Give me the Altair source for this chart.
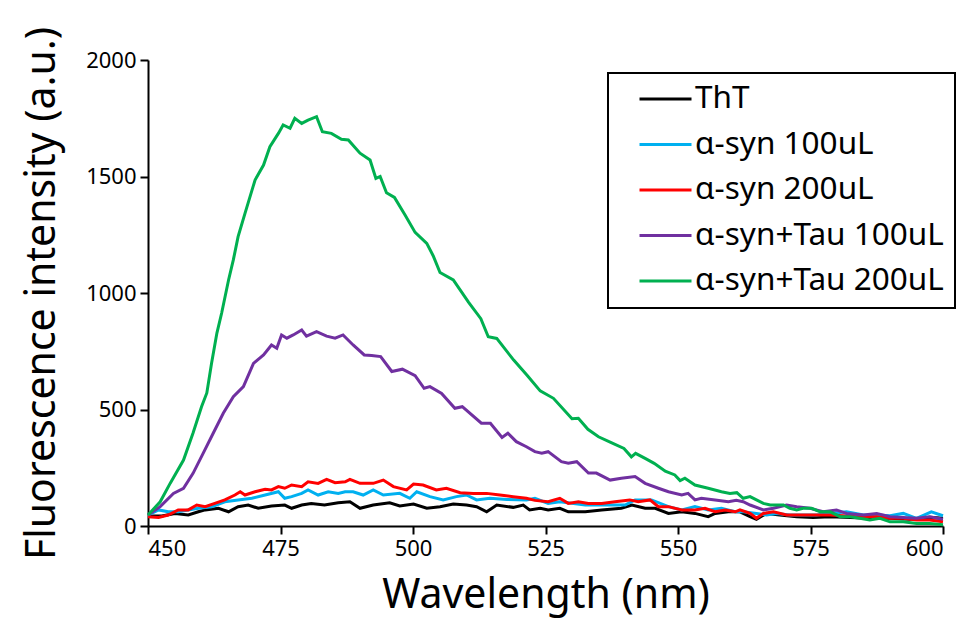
import altair as alt
import pandas as pd

series_names = ["ThT", "α-syn 100uL", "α-syn 200uL", "α-syn+Tau 100uL", "α-syn+Tau 200uL"]
series_colors = ["#000000", "#00B0F0", "#FF0000", "#7030A0", "#00B050"]

tht_wl = [450, 452.6, 455.1, 457.6, 459.5, 460.8, 463.3, 465.2, 467, 468.9, 470.8, 473.3, 475.8, 477.1, 479,
          480.8, 483.3, 485.9, 488.1, 490, 492.5, 495.6, 497.5, 500.1, 502.6, 505.1, 507.6, 510.1, 512, 513.9,
          515.8, 518.9, 520.8, 522, 524, 525.5, 527.7, 529.3, 532.5, 535.6, 539.3, 541.3, 543.8, 545.7, 548.2,
          550.7, 553.2, 555.7, 557, 559.5, 561.7, 563.6, 564.8, 566.7, 569.2, 572.4, 575.5, 578.7, 582.5, 586.2,
          590, 593.7, 597.5, 600]
tht_val = [43, 43, 54, 47, 61, 69, 76, 61, 83, 90, 76, 86, 90, 76, 90,
           97, 90, 100, 104, 76, 90, 100, 86, 94, 76, 83, 94, 90, 83, 61,
           90, 80, 90, 69, 76, 69, 76, 61, 61, 69, 76, 90, 76, 76, 54,
           61, 54, 40, 54, 61, 61, 40, 29, 54, 47, 40, 37, 40, 37, 33,
           33, 29, 37, 33]

syn100_wl = [450, 452, 453.8, 455.7, 457.6, 459.5, 462, 464.5, 467, 469.6, 472.1, 474.6, 475.8, 477.1, 479,
             480.2, 482.1, 484, 485.9, 487.2, 488.7, 490.6, 492.5, 494.4, 497.5, 499.4, 500.7, 503.2, 505.7, 508.2,
             510.1, 512, 514.5, 517.7, 521.4, 523, 525.5, 527.7, 532.5, 535.6, 540, 541.9, 545, 548.2, 550.7,
             553.2, 555.7, 558.2, 560.8, 562.3, 564.8, 566.7, 568.6, 571.1, 573.6, 576.1, 578.7, 581.8, 585, 587.5,
             590, 592.5, 595, 597.8, 600]
syn100_val = [47, 69, 61, 61, 69, 76, 83, 104, 112, 119, 133, 147, 119, 126, 140,
              155, 133, 147, 140, 147, 147, 133, 155, 133, 140, 119, 147, 126, 112, 126,
              133, 112, 119, 114, 112, 119, 97, 104, 90, 90, 90, 112, 112, 83, 69,
              83, 69, 76, 61, 61, 54, 47, 54, 47, 47, 47, 54, 61, 47, 47,
              44, 54, 33, 61, 44]

syn200_wl = [450, 452, 453.8, 455.7, 457.6, 459.2, 460.8, 462.6, 464.5, 466.4, 467.4, 468.3, 470.2, 472.1, 473.3,
             474.6, 475.8, 477.1, 479, 480.2, 482.1, 483.7, 485.3, 487.2, 488.1, 490, 492.5, 494.4, 496.3, 498.8,
             500.1, 501.9, 504.4, 506.3, 508.9, 511.4, 513.9, 516.4, 518.9, 521.4, 523, 525.5, 527.7, 529.3, 531.2,
             533.1, 535.6, 538.1, 540.9, 542.5, 544.7, 546.3, 548.2, 550.7, 553.2, 555.1, 557, 558.9, 560.8, 561.7,
             563.6, 564.8, 566.1, 568, 570.5, 573.6, 576.1, 578.7, 581.2, 583.7, 587.5, 590, 592.5, 595, 597.5, 600]
syn200_val = [40, 37, 47, 69, 69, 90, 83, 97, 112, 133, 147, 133, 147, 158, 155,
              169, 162, 176, 169, 190, 183, 200, 186, 190, 200, 183, 183, 197, 169, 155,
              180, 176, 155, 162, 143, 140, 140, 133, 126, 119, 110, 104, 119, 97, 104,
              97, 97, 104, 112, 104, 112, 83, 83, 69, 69, 76, 61, 69, 61, 69,
              54, 33, 54, 61, 47, 47, 47, 47, 44, 40, 40, 33, 33, 26, 26, 18]

tau100_wl = [450, 452.3, 454.8, 456.7, 458.5, 460.4, 462.3, 464.2, 466.1, 468, 469.9, 471.8, 473.3, 474.3, 475.2,
             476.2, 477.4, 479, 479.9, 481.8, 483.7, 485.3, 486.8, 488.7, 490.8, 492.2, 493.9, 496, 498, 500.4,
             502.1, 503.2, 505.4, 507.9, 509.3, 512.9, 514.6, 516.8, 517.9, 519.5, 521.4, 523, 524.3, 525.5, 528,
             529.3, 530.9, 533.1, 534.6, 537.2, 539.3, 541.9, 543.8, 546.3, 548.2, 550.7, 551.9, 553.2, 554.4, 557,
             559.5, 561, 562.3, 563.6, 566.1, 568, 570.5, 572.4, 574.9, 577.4, 579.9, 581.8, 585, 587.5, 590,
             592.5, 595, 597.5, 600]
tau100_val = [47, 83, 140, 162, 226, 312, 398, 484, 555, 598, 698, 734, 777, 763, 820,
              806, 820, 841, 815, 834, 815, 806, 820, 777, 734, 732, 727, 663, 673, 645,
              591, 598, 569, 505, 512, 441, 441, 380, 398, 362, 340, 319, 312, 319, 276,
              269, 276, 227, 227, 197, 205, 212, 183, 162, 147, 133, 140, 112, 119, 112,
              104, 110, 104, 90, 69, 76, 90, 83, 76, 61, 69, 54, 47, 54, 40,
              37, 33, 40, 29]

tau200_wl = [450, 452.3, 454.2, 456.7, 458.5, 460.1, 461.1, 462, 463, 463.9, 465.2, 466.1, 467, 468.3, 470.2,
             471.8, 473, 474.6, 475.5, 476.8, 477.7, 479, 480.2, 481.8, 482.9, 484.6, 486.5, 487.8, 490, 491.9,
             493, 493.8, 495, 496.5, 498.5, 500.4, 502.6, 503.8, 505.1, 507.6, 510.5, 512.8, 514.2, 515.8, 519,
             521.6, 524, 526.5, 530, 531.2, 533, 535, 537.4, 539.8, 541.2, 542, 543.8, 545.5, 547.6, 549.4,
             550.4, 551.3, 553.2, 555.7, 558.2, 559.8, 561.1, 562.3, 563.6, 564.8, 566.1, 567.4, 569.9, 571.1, 572.4,
             573.6, 575.2, 576.8, 578.7, 580.6, 582.5, 584.3, 586.2, 588.1, 590, 592.5, 595, 597.5, 600]
tau200_val = [47, 104, 184, 283, 399, 512, 571, 700, 828, 914, 1056, 1142, 1242, 1342, 1485,
              1549, 1628, 1685, 1721, 1707, 1750, 1728, 1742, 1757, 1692, 1685, 1660, 1657, 1600, 1571,
              1492, 1500, 1430, 1410, 1335, 1260, 1213, 1160, 1088, 1056, 960, 890, 812, 805, 712,
              645, 580, 548, 460, 462, 415, 383, 358, 333, 297, 312, 290, 269, 235, 219,
              195, 205, 176, 162, 147, 140, 143, 119, 126, 112, 97, 90, 90, 76, 69,
              76, 76, 61, 61, 40, 40, 33, 26, 33, 18, 18, 11, 11, 5]

all_wl = [tht_wl, syn100_wl, syn200_wl, tau100_wl, tau200_wl]
all_val = [tht_val, syn100_val, syn200_val, tau100_val, tau200_val]

rows = []
for name, wls, vals in zip(series_names, all_wl, all_val):
    for w, v in zip(wls, vals):
        rows.append({"wl": w, "val": v, "series": name})
df = pd.DataFrame(rows)

FONT = "Noto Sans"

chart = alt.Chart(df).mark_line(strokeWidth=3).encode(
    x=alt.X("wl:Q",
            scale=alt.Scale(domain=[450, 600], nice=False, zero=False),
            axis=alt.Axis(values=[450, 475, 500, 525, 550, 575, 600], format="d",
                          title="Wavelength (nm)", titlePadding=16, labelPadding=4)),
    y=alt.Y("val:Q",
            scale=alt.Scale(domain=[0, 2000], nice=False),
            axis=alt.Axis(values=[0, 500, 1000, 1500, 2000], format="d",
                          title="Fluorescence intensity (a.u.)", titlePadding=22, labelPadding=4)),
    color=alt.Color("series:N",
                    scale=alt.Scale(domain=series_names, range=series_colors),
                    sort=series_names,
                    legend=alt.Legend(title=None, orient="none", legendX=460, legendY=13,
                                      strokeColor="black", fillColor="white", padding=11,
                                      symbolType="stroke", symbolSize=2704, symbolStrokeWidth=3,
                                      symbolOffset=19, labelOffset=2, clipHeight=30,
                                      rowPadding=13.5, labelFontSize=31.5, labelFont=FONT,
                                      labelColor="black", labelLimit=500)),
    detail="series:N",
).properties(
    width=795, height=466,
    autosize="none",
    padding={"left": 140, "top": 52, "right": 21, "bottom": 94},
).configure_view(stroke=None).configure_axis(
    grid=False, domainColor="black", domainWidth=2, tickColor="black", tickWidth=2, tickSize=8,
    labelFontSize=22, labelColor="black", labelFont=FONT,
    titleFontSize=41, titleFontWeight="normal", titleColor="black", titleFont=FONT,
).configure_legend(strokeWidth=2)

chart.save("out.html", embed_options={"renderer": "svg", "actions": False})
